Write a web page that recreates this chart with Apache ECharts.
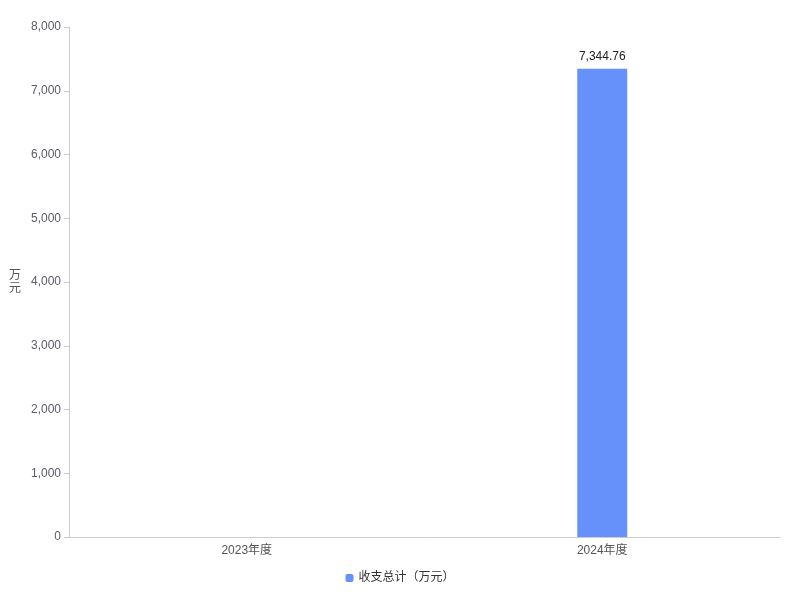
<!DOCTYPE html>
<html>
<head>
<meta charset="utf-8">
<script src="https://cdn.jsdelivr.net/npm/echarts@6/dist/echarts.min.js"></script>
<style>
  html, body { margin: 0; padding: 0; background: #fff; }
  #chart { width: 800px; height: 600px; }
</style>
</head>
<body>
<div id="chart"></div>
<script>
var years = ['2023年度', '2024年度']
var totals = [null, 7344.76]
var seriesName = '收支总计（万元）'

var chart = echarts.init(document.getElementById('chart'))
var option = {
  textStyle: { fontFamily: 'Liberation Sans, Noto Sans CJK SC, sans-serif' },
  grid: { left: 69, right: 20, top: 27, bottom: 63 },
  legend: {
    bottom: 11,
    left: 'center',
    icon: 'roundRect',
    itemWidth: 8,
    itemHeight: 8,
    itemGap: 10,
    textStyle: { color: '#333', fontSize: 12 },
    data: [seriesName]
  },
  xAxis: {
    type: 'category',
    data: years,
    axisLine: { lineStyle: { color: '#ccc' } },
    axisTick: { alignWithLabel: true, lineStyle: { color: '#ccc' } },
    axisLabel: { color: '#555', fontSize: 12, margin: 8 }
  },
  yAxis: {
    type: 'value',
    min: 0,
    max: 8000,
    interval: 1000,
    name: '万\n元',
    nameLocation: 'middle',
    nameRotate: 0,
    nameGap: 48,
    nameTextStyle: { color: '#555', fontSize: 12, lineHeight: 13, padding: [0, 0, 20, 0] },
    axisLine: { show: true, lineStyle: { color: '#ccc' } },
    axisTick: { show: true, lineStyle: { color: '#ccc' } },
    splitLine: { show: false },
    axisLabel: {
      color: '#5a5c66',
      fontSize: 12,
      formatter: function (v) { return v.toLocaleString('en-US') }
    }
  },
  series: [
    {
      name: seriesName,
      type: 'bar',
      data: totals,
      barWidth: 50,
      itemStyle: { color: '#6691fb' },
      label: {
        show: true,
        position: 'top',
        color: '#222',
        fontSize: 12,
        distance: 6,
        formatter: function (p) {
          return p.value.toLocaleString('en-US', { minimumFractionDigits: 2, maximumFractionDigits: 2 })
        }
      }
    }
  ]
}
chart.setOption(option)
</script>
</body>
</html>
